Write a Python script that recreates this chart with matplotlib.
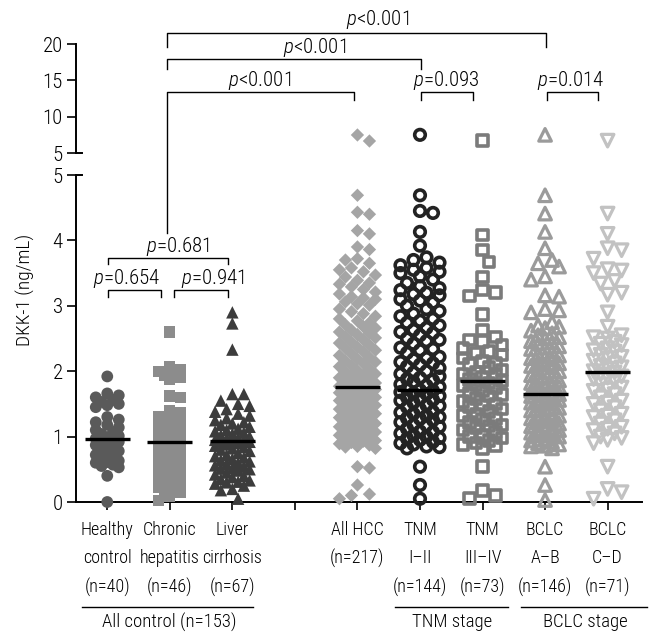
import numpy as np
import matplotlib
matplotlib.use('Agg')
import matplotlib.pyplot as plt
from matplotlib import font_manager
from matplotlib.transforms import blended_transform_factory


def pick_font(cands):
    for c in cands:
        try:
            font_manager.findfont(font_manager.FontProperties(family=c), fallback_to_default=False)
            return c
        except Exception:
            pass
    return 'DejaVu Sans'


FONT = pick_font(['Roboto Condensed', 'Liberation Sans Narrow', 'Roboto', 'Liberation Sans'])
plt.rcParams['font.family'] = [FONT, 'DejaVu Sans']
plt.rcParams['font.weight'] = 'light'
plt.rcParams['mathtext.fontset'] = 'custom'
plt.rcParams['mathtext.rm'] = FONT + ':light'
plt.rcParams['mathtext.it'] = FONT + ':italic:light'

# ---------------- data ----------------
categories = ['Healthy control', 'Chronic hepatitis', 'Liver cirrhosis', 'All HCC',
              'TNM I-II', 'TNM III-IV', 'BCLC A-B', 'BCLC C-D']
positions = [0, 1, 2, 4, 5, 6, 7, 8]
label_rows = [['Healthy', 'control', '(n=40)'],
              ['Chronic', 'hepatitis', '(n=46)'],
              ['Liver', 'cirrhosis', '(n=67)'],
              ['All HCC', '(n=217)'],
              ['TNM', 'I\u2013II', '(n=144)'],
              ['TNM', 'III\u2013IV', '(n=73)'],
              ['BCLC', 'A\u2013B', '(n=146)'],
              ['BCLC', 'C\u2013D', '(n=71)']]

healthy = [1.92, 1.66, 1.63, 1.60, 1.56, 1.53, 1.50, 1.48, 1.45, 1.30, 1.26, 1.22, 1.18,
           1.14, 1.10, 1.07, 1.04, 1.01, 0.99, 0.97, 0.96, 0.94, 0.92, 0.90, 0.87, 0.84,
           0.81, 0.78, 0.75, 0.72, 0.69, 0.66, 0.63, 0.60, 0.57, 0.55, 0.53, 0.61, 0.40, 0.00]
chronic = [2.60, 2.07, 2.03, 2.00, 1.97, 1.93, 1.90, 1.87, 1.62, 1.60, 1.40, 1.36, 1.30,
           1.25, 1.20, 1.15, 1.10, 1.05, 1.00, 0.96, 0.93, 0.92, 0.90, 0.87, 0.83, 0.80,
           0.76, 0.73, 0.70, 0.66, 0.62, 0.58, 0.55, 0.50, 0.46, 0.42, 0.38, 0.34, 0.30,
           0.26, 0.22, 0.20, 0.18, 0.15, 0.08, 0.02]
cirrhosis = [2.90, 2.73, 2.33, 1.65, 1.65, 1.55, 1.50, 1.47, 1.42, 1.38, 1.35, 1.32, 1.28,
             1.25, 1.22, 1.20, 1.18, 1.15, 1.12, 1.10, 1.08, 1.06, 1.04, 1.02, 1.00, 0.98,
             0.96, 0.95, 0.94, 0.93, 0.93, 0.92, 0.90, 0.88, 0.86, 0.84, 0.82, 0.80, 0.78,
             0.75, 0.72, 0.70, 0.68, 0.66, 0.64, 0.62, 0.60, 0.58, 0.56, 0.54, 0.52, 0.50,
             0.48, 0.45, 0.42, 0.40, 0.38, 0.35, 0.33, 0.30, 0.28, 0.25, 0.31, 0.20, 0.18,
             0.05, 0.51]
all_hcc = [7.48, 6.65, 4.69, 4.43, 4.40, 4.15, 4.10, 3.90, 3.86, 3.72, 3.70, 3.65, 3.58,
           3.52, 3.47, 3.44, 3.39, 3.35, 3.29, 3.25, 3.21, 3.14, 3.10, 3.06, 3.01, 2.95,
           2.91, 2.84, 2.80, 2.77, 2.71, 2.68, 2.63, 2.60, 2.56, 2.51, 2.48, 2.43, 2.40,
           2.35, 2.32, 2.27, 2.24, 2.19, 2.16, 2.12, 2.07, 2.04, 1.99, 1.96, 1.92, 1.88,
           1.85, 1.82, 1.79, 1.77, 1.76, 1.75, 1.72, 1.70, 1.67, 1.65, 1.62, 1.60, 1.57,
           1.53, 1.51, 1.48, 1.44, 1.42, 1.38, 1.36, 1.33, 1.29, 1.27, 1.24, 1.20, 1.18,
           1.15, 1.11, 1.09, 1.05, 1.03, 1.00, 0.96, 0.94, 0.91, 0.87, 0.85, 0.82, 0.54,
           0.52, 0.26, 0.12, 0.10, 0.05, 3.55, 3.33, 3.18, 3.03, 2.88, 2.74, 2.58, 2.45,
           2.30, 2.21, 2.09, 2.01, 1.94, 1.86, 1.80, 1.73, 1.68, 1.58, 1.50, 1.46, 1.40,
           1.31, 1.22, 1.13, 1.07, 0.98, 0.89, 0.84, 2.66, 2.37, 2.14, 1.90, 1.63, 1.35,
           1.16, 0.93, 3.12, 2.53, 1.55, 1.02]
tnm_12 = [7.50, 4.69, 4.45, 4.42, 4.13, 3.92, 3.74, 3.70, 3.66, 3.62, 3.58, 3.55, 3.50,
          3.45, 3.40, 3.35, 3.30, 3.24, 3.18, 3.16, 3.10, 3.05, 3.00, 2.95, 2.88, 2.84,
          2.80, 2.74, 2.70, 2.66, 2.60, 2.55, 2.50, 2.46, 2.42, 2.36, 2.32, 2.28, 2.22,
          2.18, 2.14, 2.10, 2.05, 2.00, 1.96, 1.92, 1.88, 1.84, 1.80, 1.76, 1.73, 1.71,
          1.70, 1.68, 1.65, 1.62, 1.58, 1.55, 1.52, 1.48, 1.45, 1.42, 1.38, 1.35, 1.32,
          1.28, 1.25, 1.22, 1.18, 1.15, 1.12, 1.08, 1.05, 1.02, 0.98, 0.95, 0.92, 0.88,
          0.85, 0.82, 0.54, 0.26, 0.05, 3.52, 3.27, 3.08, 2.92, 2.77, 2.63, 2.48, 2.34,
          2.20, 2.07, 1.98, 1.86, 1.78, 1.66, 1.56, 1.47, 1.37, 1.27, 1.17, 1.07, 0.97,
          0.90, 0.84, 2.58, 2.12, 1.90, 1.60, 1.30, 1.00, 3.20]
tnm_34 = [6.70, 4.08, 3.85, 3.67, 3.44, 3.24, 3.20, 3.15, 2.87, 2.63, 2.52, 2.48, 2.45,
          2.40, 2.35, 2.30, 2.25, 2.20, 2.15, 2.10, 2.06, 2.02, 1.98, 1.94, 1.90, 1.87,
          1.85, 1.82, 1.78, 1.74, 1.70, 1.66, 1.62, 1.58, 1.54, 1.50, 1.46, 1.42, 1.38,
          1.34, 1.28, 1.26, 1.22, 1.18, 1.14, 1.10, 1.06, 1.02, 0.98, 0.94, 0.90, 0.86,
          0.82, 0.54, 0.18, 0.10, 0.05, 2.28, 2.12, 1.96, 1.80, 1.64, 1.48, 1.32, 1.16,
          1.00, 0.88]
bclc_ab = [7.50, 4.69, 4.41, 4.13, 3.88, 3.70, 3.65, 3.60, 3.45, 3.40, 3.16, 3.14, 2.95,
           2.93, 2.90, 2.75, 2.70, 2.66, 2.62, 2.58, 2.55, 2.50, 2.46, 2.42, 2.38, 2.34,
           2.30, 2.26, 2.22, 2.18, 2.14, 2.10, 2.06, 2.02, 1.98, 1.94, 1.90, 1.86, 1.82,
           1.78, 1.74, 1.70, 1.67, 1.65, 1.63, 1.60, 1.56, 1.52, 1.48, 1.44, 1.40, 1.36,
           1.32, 1.28, 1.24, 1.20, 1.16, 1.12, 1.08, 1.04, 1.00, 0.96, 0.92, 0.88, 0.85,
           0.82, 0.54, 0.26, 0.03, 2.68, 2.52, 2.36, 2.24, 2.12, 2.00, 1.92, 1.84, 1.76,
           1.68, 1.58, 1.50, 1.42, 1.34, 1.26, 1.18, 1.10, 1.02, 0.94, 0.86, 2.44, 2.08,
           1.80, 1.54, 1.30, 1.06, 0.90, 2.20, 1.62, 1.14]
bclc_cd = [6.70, 4.41, 4.10, 3.88, 3.85, 3.72, 3.56, 3.54, 3.50, 3.38, 3.34, 3.20, 3.17,
           2.90, 2.68, 2.55, 2.52, 2.50, 2.45, 2.40, 2.35, 2.30, 2.25, 2.20, 2.16, 2.12,
           2.08, 2.04, 2.00, 1.98, 1.95, 1.92, 1.88, 1.84, 1.80, 1.75, 1.70, 1.65, 1.60,
           1.55, 1.50, 1.45, 1.40, 1.35, 1.30, 1.25, 1.20, 1.15, 1.10, 1.05, 1.00, 0.95,
           0.90, 0.54, 0.20, 0.15, 0.05, 2.42, 2.22, 2.06, 1.90, 1.72, 1.52, 1.32, 1.12,
           0.98, 2.32]
group_values = [healthy, chronic, cirrhosis, all_hcc, tnm_12, tnm_34, bclc_ab, bclc_cd]
medians = [0.97, 0.92, 0.93, 1.76, 1.71, 1.85, 1.65, 1.99]

# ---------------- styles ----------------
styles = [
    dict(marker='o', s=72, fc='#5a5a5a', ec='none', lw=0, d=11.5, half=16),
    dict(marker='s', s=66, fc='#8c8c8c', ec='none', lw=0, d=11.0, half=16),
    dict(marker='^', s=80, fc='#3c3c3c', ec='none', lw=0, d=11.5, half=18),
    dict(marker='D', s=46, fc='#a5a5a5', ec='none', lw=0, d=12.0, half=20),
    dict(marker='o', s=58, fc='none', ec='#232323', lw=2.6, d=13.0, half=20),
    dict(marker='s', s=58, fc='none', ec='#7b7b7b', lw=2.6, d=13.0, half=20),
    dict(marker='^', s=82, fc='none', ec='#9b9b9b', lw=2.3, d=14.0, half=20),
    dict(marker='v', s=82, fc='none', ec='#c2c2c2', lw=2.3, d=14.0, half=20),
]

W, H = 660, 643
fig = plt.figure(figsize=(W / 100, H / 100), dpi=100)
L, R = 76, 642
ax = fig.add_axes([L / W, (H - 502) / H, (R - L) / W, (502 - 175) / H])
axt = fig.add_axes([L / W, (H - 153) / H, (R - L) / W, (153 - 44) / H])
axt.patch.set_alpha(0)
ax.patch.set_alpha(0)

XLIM = (-0.5, 8.55)
for a in (ax, axt):
    a.set_xlim(*XLIM)
    a.spines['top'].set_visible(False)
    a.spines['right'].set_visible(False)
    a.spines['left'].set_linewidth(1.4)
    a.tick_params(axis='y', direction='out', length=6.5, width=1.2, labelsize=15, pad=3)
ax.set_ylim(0, 5)
axt.set_ylim(5, 20)
ax.spines['bottom'].set_linewidth(1.4)
axt.spines['bottom'].set_visible(False)
axt.set_xticks([])
ax.set_yticks([0, 1, 2, 3, 4, 5])
axt.set_yticks([5, 10, 15, 20])
ax.set_xticks([0, 1, 2, 3, 4, 5, 6, 7, 8])
ax.set_xticklabels([])
ax.tick_params(axis='x', direction='out', length=6, width=1.2)

# break caps
cap = 6 / (R - L)
for a in (ax, axt):
    tr = blended_transform_factory(a.transAxes, a.transData)
    a.plot([0, cap], [5, 5], color='black', lw=1.4, transform=tr, clip_on=False)


def swarm(a, xc, vals, diam, half):
    vals = np.asarray(vals, float)
    disp = a.transData.transform(np.column_stack([np.full(len(vals), float(xc)), vals]))
    ys = disp[:, 1]
    x0 = disp[0, 0]
    step = diam * 0.5
    n = int(half // step)
    cands = [0.0]
    for k in range(1, n + 1):
        cands += [k * step, -k * step]
    order = np.argsort(-vals, kind='stable')
    off = np.zeros(len(vals))
    px, py = [], []
    for i in order:
        best, bestd = 0.0, -1.0
        for c in cands:
            d = np.min(np.hypot(np.array(px) - c, np.array(py) - ys[i])) if px else np.inf
            if d >= diam * 0.95:
                best = c
                break
            if d > bestd:
                best, bestd = c, d
        off[i] = best
        px.append(best)
        py.append(ys[i])
    inv = a.transData.inverted()
    return inv.transform(np.column_stack([x0 + off, ys]))[:, 0]


for pos, vals, st, med in zip(positions, group_values, styles, medians):
    vals = np.asarray(vals, float)
    for a, mask in ((ax, vals <= 5), (axt, vals > 5)):
        v = vals[mask]
        if len(v) == 0:
            continue
        xs = swarm(a, pos, v, st['d'], st['half'])
        a.scatter(xs, v, marker=st['marker'], s=st['s'], facecolors=st['fc'],
                  edgecolors=st['ec'], linewidths=st['lw'], clip_on=False, zorder=3)
    ax.plot([pos - 0.36, pos + 0.36], [med, med], color='black', lw=2.4,
            solid_capstyle='butt', zorder=5)

# ---------------- labels ----------------
trx = blended_transform_factory(ax.transData, fig.transFigure)
row_y = [530, 558, 587]
for pos, rows in zip(positions, label_rows):
    for k, t in enumerate(rows):
        ax.text(pos, 1 - row_y[k] / H, t, ha='center', va='center', fontsize=13,
                transform=trx)

group_lines = [(-0.40, 2.33, 0.99, 'All control (n=153)'),
               (4.60, 6.41, 5.51, 'TNM stage'),
               (6.62, 8.63, 7.65, 'BCLC stage')]
for x0, x1, xt, t in group_lines:
    ax.plot([x0, x1], [1 - 607 / H] * 2, color='black', lw=1.0, transform=trx, clip_on=False)
    ax.text(xt, 1 - 622 / H, t, ha='center', va='center', fontsize=13.5, transform=trx)

fig.text(25 / W, 1 - 290 / H, 'DKK-1 (ng/mL)', rotation=90, ha='center', va='center',
         fontsize=14)

# ---------------- significance brackets ----------------
def cx(px):
    return (px - 107) / 62.6


def bracket(x0, x1, y, drop0, drop1):
    ax.plot([x0, x0, x1, x1], [1 - drop0 / H, 1 - y / H, 1 - y / H, 1 - drop1 / H],
            color='black', lw=1.0, transform=trx, clip_on=False)


bracket(cx(166.5), cx(546), 33, 47, 47)
bracket(cx(166.5), cx(421), 59, 69, 69)
bracket(cx(166.5), cx(354), 92, 233, 100)
bracket(cx(421), cx(473), 92, 100, 100)
bracket(cx(547), cx(598), 92, 100, 100)
bracket(cx(108), cx(228), 258, 264, 264)
bracket(cx(108), cx(161), 290, 297, 297)
bracket(cx(174), cx(228), 290, 297, 297)

ptexts = [(378, 25, '$p$<0.001'), (314, 53, '$p$<0.001'), (259, 86, '$p$<0.001'),
          (446, 86, '$p$=0.093'), (571, 86, '$p$=0.014'),
          (178, 252, '$p$=0.681'), (126, 284, '$p$=0.654'), (213, 284, '$p$=0.941')]
for px, py, t in ptexts:
    ax.text(cx(px), 1 - py / H, t, ha='center', va='baseline', fontsize=15, transform=trx)

fig.savefig('out.png', dpi=100)
